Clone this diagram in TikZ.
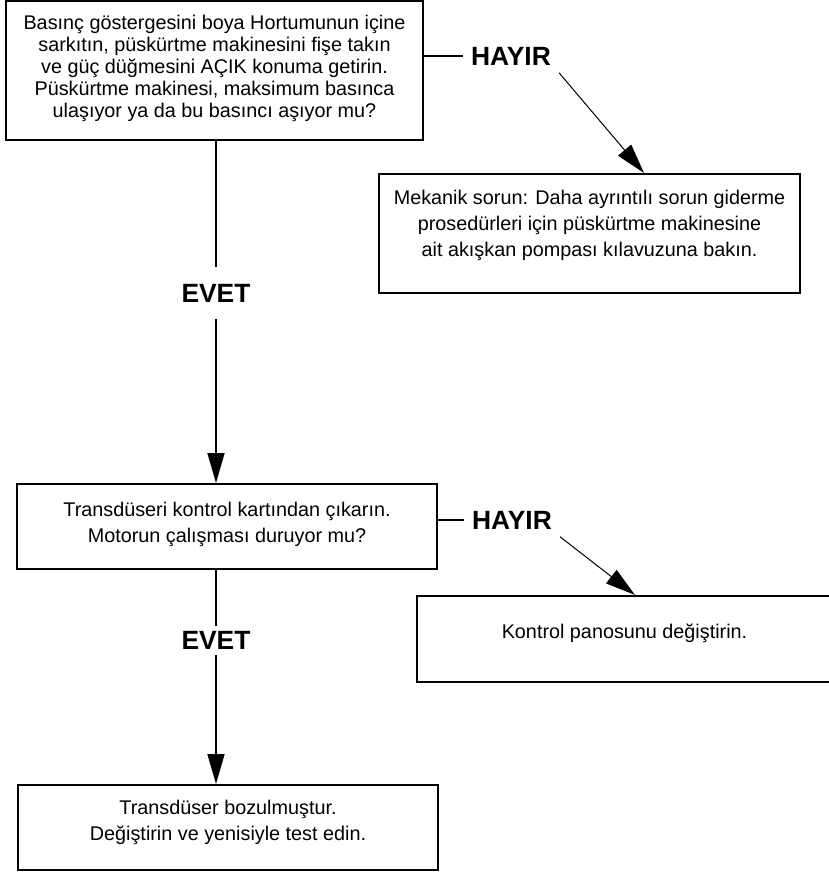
\documentclass[tikz,border=0pt]{standalone}
\usepackage{fontspec}
\setmainfont{Liberation Sans}
\usetikzlibrary{arrows.meta}

\begin{document}
\begin{tikzpicture}[
  x=1pt, y=-1pt,
  font=\fontsize{19.8}{26}\selectfont,
  box/.style={draw, line width=2pt, align=center, inner sep=0pt},
  lift/.style={execute at end node={\rule[-#1]{0pt}{#1}}},
  lab/.style={font=\fontsize{26.4}{30}\selectfont\bfseries, inner xsep=8pt, inner ysep=7.5pt},
  conn/.style={line width=1.6pt},
  arr/.style={-{Triangle[length=30pt, width=17pt]}, line width=1.6pt},
  arrd/.style={-{Triangle[length=30pt, width=17pt]}, line width=1pt}
]
\useasboundingbox (0,0) rectangle (829,872);

\node[box, minimum width=417pt, minimum height=139pt, lift=9pt,
  font=\fontsize{19.8}{22}\selectfont] (q1) at (214.5,70.5)
  {Basınç göstergesini boya Hortumunun içine\\
   sarkıtın, püskürtme makinesini fişe takın\\
   ve güç düğmesini AÇIK konuma getirin.\\
   Püskürtme makinesi, maksimum basınca\\
   ulaşıyor ya da bu basıncı aşıyor mu?};
\node[lab] (h1) at (511,56) {HAYIR};
\node[box, minimum width=421pt, minimum height=119pt, lift=21pt] (r1) at (589.5,233.5)
  {Mekanik sorun: Daha ayrıntılı sorun giderme\\
   prosedürleri için püskürtme makinesine\\
   ait akışkan pompası kılavuzuna bakın.};
\node[lab, inner ysep=16.5pt] (e1) at (216,293) {EVET};

\node[box, minimum width=420pt, minimum height=85pt, lift=8pt] (q2) at (227,526.5)
  {Transdüseri kontrol kartından çıkarın.\\
   Motorun çalışması duruyor mu?};
\node[lab] (h2) at (512,520) {HAYIR};
\node[box, minimum width=415pt, minimum height=86pt, lift=16pt] (r2) at (624.5,639)
  {Kontrol panosunu değiştirin.};
\node[lab, inner ysep=5pt] (e2) at (216,640.5) {EVET};

\node[box, minimum width=420pt, minimum height=85pt, lift=15pt] (r3) at (228,827.5)
  {Transdüser bozulmuştur.\\
   Değiştirin ve yenisiyle test edin.};

\draw[conn] (q1.east |- h1) -- (h1.west);
\draw[arrd] (h1.south east) -- ([xshift=266pt]r1.north west);
\draw[conn] (q1.south -| e1) -- (e1.north);
\draw[arr] (e1.south) -- (e1 |- q2.north);
\draw[conn] (q2.east |- h2) -- (h2.west);
\draw[arrd] (h2.south east) -- ([xshift=219pt]r2.north west);
\draw[conn] (q2.south -| e2) -- (e2.north);
\draw[arr] (e2.south) -- (e2 |- r3.north);
\end{tikzpicture}
\end{document}
